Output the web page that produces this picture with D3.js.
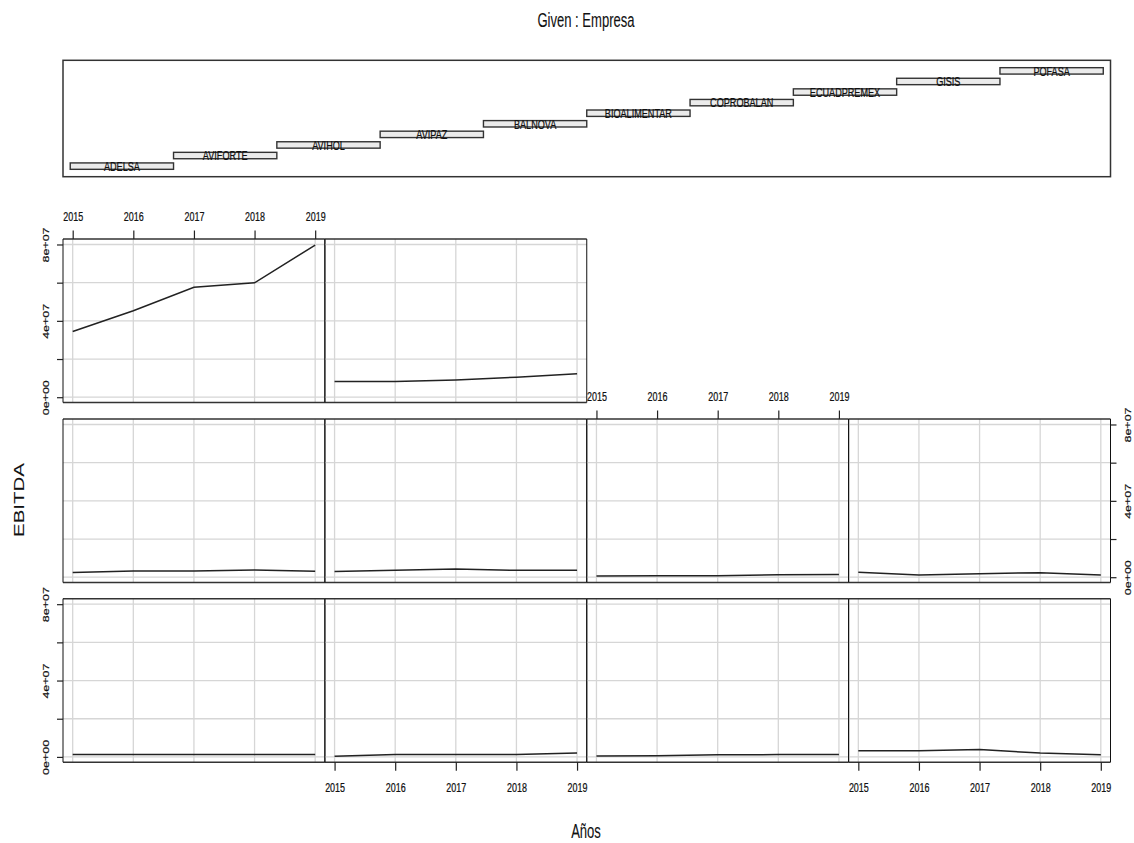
<!DOCTYPE html>
<html>
<head>
<meta charset="utf-8">
<script src="https://cdn.jsdelivr.net/npm/d3@7"></script>
<style>
body { margin: 0; background: #fff; }
text { font-family: 'Liberation Sans', Arial, sans-serif; fill: #111; stroke: #111; stroke-width: 0.25px; }
</style>
</head>
<body>
<div id="chart"></div>
<script>
const years = [2015, 2016, 2017, 2018, 2019];
const empresas = ['ADELSA', 'AVIFORTE', 'AVIHOL', 'AVIPAZ', 'BALNOVA',
    'BIOALIMENTAR', 'COPROBALAN', 'ECUADPREMEX', 'GISIS', 'POFASA'];

// EBITDA per company
const adelsa = [1.2e6, 1.2e6, 1.25e6, 1.2e6, 1.2e6];
const aviforte = [4e5, 1.2e6, 1.2e6, 1.3e6, 2.0e6];
const avihol = [5e5, 6e5, 1.1e6, 1.2e6, 1.2e6];
const avipaz = [3.2e6, 3.2e6, 3.9e6, 2.0e6, 1.1e6];
const balnova = [2.5e6, 3.2e6, 3.2e6, 3.8e6, 3.1e6];
const bioalimentar = [3.0e6, 3.6e6, 4.3e6, 3.6e6, 3.6e6];
const coprobalan = [6e5, 7e5, 8e5, 1.3e6, 1.4e6];
const ecuadpremex = [2.6e6, 1.2e6, 1.8e6, 2.4e6, 1.2e6];
const gisis = [3.44e7, 4.53e7, 5.76e7, 5.99e7, 7.97e7];
const pofasa = [8.2e6, 8.2e6, 9.0e6, 1.05e7, 1.23e7];

const series = [adelsa, aviforte, avihol, avipaz, balnova,
    bioalimentar, coprobalan, ecuadpremex, gisis, pofasa];

const yTicks = [0, 2e7, 4e7, 6e7, 8e7];
const yLabelled = [0, 4e7, 8e7];

function draw() {
    const dimensions = {
        width: 1134,
        height: 843,
        left: 63,
        right: 1110.5,
        cols: 4,
        rowTops: [239, 419, 598.7],  // screen rows, top to bottom
        rowHeight: 163.5,
        squeeze: 0.7                 // the reference is horizontally compressed
    }
    dimensions.colWidth = (dimensions.right - dimensions.left) / dimensions.cols;
    const s = dimensions.squeeze;

    const sci = v => {
        if (v === 0) return '0e+00';
        const e = Math.floor(Math.log10(v));
        return `${Math.round(v / 10 ** e)}e+${String(e).padStart(2, '0')}`;
    }

    const svg = d3.select('#chart')
        .append('svg')
        .attr('width', dimensions.width)
        .attr('height', dimensions.height)
        .style('background', '#fff')

    // Given panel
    const given = { top: 60.3, bottom: 176.7 };
    const gx = d3.scaleLinear().domain([0.43, empresas.length + 0.57]).range([dimensions.left, dimensions.right]);
    const gy = d3.scaleLinear().domain([0, empresas.length + 1]).range([given.bottom, given.top]);

    svg.append('rect')
        .attr('x', dimensions.left).attr('y', given.top)
        .attr('width', dimensions.right - dimensions.left)
        .attr('height', given.bottom - given.top)
        .attr('fill', 'none').attr('stroke', '#333').attr('stroke-width', 1.5)

    const bars = svg.append('g').selectAll('g')
        .data(empresas)
        .join('g')

    bars.append('rect')
        .attr('x', (d, i) => gx(i + 0.5))
        .attr('y', (d, i) => gy(i + 1) - 3.2)
        .attr('width', (d, i) => gx(i + 1.5) - gx(i + 0.5))
        .attr('height', 6.4)
        .attr('fill', '#ebebeb')
        .attr('stroke', '#333')
        .attr('stroke-width', 1.4)

    bars.append('text')
        .attr('transform', (d, i) => `translate(${gx(i + 1)},${gy(i + 1) + 4.8}) scale(${s},1)`)
        .attr('text-anchor', 'middle')
        .style('font-size', '13px')
        .text(d => d)

    // Scales shared by every panel
    const all = series.flat();
    const ext = (d3.max(all) - d3.min(all)) * 0.04;
    const xScale = d3.scaleLinear()
        .domain([years[0] - 0.16, years[years.length - 1] + 0.16])
        .range([0, dimensions.colWidth])
    const yScale = d3.scaleLinear()
        .domain([d3.min(all) - ext, d3.max(all) + ext])
        .range([dimensions.rowHeight, 0])

    const line = d3.line()
        .x((d, i) => xScale(years[i]))
        .y(d => yScale(d))

    const nRows = Math.ceil(series.length / dimensions.cols);

    series.forEach((values, i) => {
        const col = i % dimensions.cols;
        const rowFromBottom = Math.floor(i / dimensions.cols);
        const row = nRows - 1 - rowFromBottom;
        const container = svg.append('g')
            .attr('transform', `translate(${dimensions.left + col * dimensions.colWidth}, ${dimensions.rowTops[row]})`)

        container.append('g').selectAll('line')
            .data(years)
            .join('line')
            .attr('x1', d => xScale(d)).attr('x2', d => xScale(d))
            .attr('y1', 0).attr('y2', dimensions.rowHeight)
            .attr('stroke', '#d6d6d6').attr('stroke-width', 1.3)

        container.append('g').selectAll('line')
            .data(yTicks)
            .join('line')
            .attr('x1', 0).attr('x2', dimensions.colWidth)
            .attr('y1', d => yScale(d)).attr('y2', d => yScale(d))
            .attr('stroke', '#d6d6d6').attr('stroke-width', 1.3)

        container.append('path')
            .datum(values)
            .attr('d', line)
            .attr('fill', 'none')
            .attr('stroke', '#222')
            .attr('stroke-width', 1.5)

        // horizontal edges heavier than the vertical panel dividers
        container.append('g').selectAll('line')
            .data([0, dimensions.rowHeight])
            .join('line')
            .attr('x1', 0).attr('x2', dimensions.colWidth)
            .attr('y1', d => d).attr('y2', d => d)
            .attr('stroke', '#333').attr('stroke-width', 1.6)

        container.append('g').selectAll('line')
            .data([0, dimensions.colWidth])
            .join('line')
            .attr('x1', d => d).attr('x2', d => d)
            .attr('y1', 0).attr('y2', dimensions.rowHeight)
            .attr('stroke', '#111').attr('stroke-width', 1)

        // x axes alternate: odd columns on top of their highest panel, even ones at the bottom
        const topmostInCol = d3.max(d3.range(col, series.length, dimensions.cols));
        if (col % 2 === 0 && i === topmostInCol) {
            const g = container.append('g')
                .call(d3.axisTop(xScale).tickValues(years).tickFormat(d3.format('d')).tickSize(8.5).tickPadding(9.8))
            g.select('.domain').remove();
            g.selectAll('line').attr('stroke', '#222').attr('stroke-width', 1.2);
            g.selectAll('text').attr('transform', `scale(${s},1)`).style('font-size', '12.8px').attr('fill', '#111');
        }
        if (col % 2 === 1 && rowFromBottom === 0) {
            const g = container.append('g')
                .attr('transform', `translate(0, ${dimensions.rowHeight})`)
                .call(d3.axisBottom(xScale).tickValues(years).tickFormat(d3.format('d')).tickSize(8.5).tickPadding(12.4))
            g.select('.domain').remove();
            g.selectAll('line').attr('stroke', '#222').attr('stroke-width', 1.2);
            g.selectAll('text').attr('transform', `scale(${s},1)`).style('font-size', '12.8px').attr('fill', '#111');
        }

        // y axes alternate: left on even rows (from bottom), right on odd rows
        const yFormat = d => yLabelled.includes(d) ? sci(d) : '';
        if (rowFromBottom % 2 === 0 && col === 0) {
            const g = container.append('g')
                .call(d3.axisLeft(yScale).tickValues(yTicks).tickFormat(yFormat).tickSize(6))
            g.select('.domain').remove();
            g.selectAll('line').attr('stroke', '#222').attr('stroke-width', 1.2);
            g.selectAll('text')
                .attr('transform', `scale(${s},1) rotate(-90)`)
                .attr('x', 0).attr('y', -13.8 / s).attr('dy', 0)
                .attr('text-anchor', 'middle')
                .style('font-size', '12.5px').attr('fill', '#111');
        }
        const lastInRow = Math.min(series.length - 1, rowFromBottom * dimensions.cols + dimensions.cols - 1);
        if (rowFromBottom % 2 === 1 && i === lastInRow) {
            const g = container.append('g')
                .attr('transform', `translate(${dimensions.colWidth}, 0)`)
                .call(d3.axisRight(yScale).tickValues(yTicks).tickFormat(yFormat).tickSize(6))
            g.select('.domain').remove();
            g.selectAll('line').attr('stroke', '#222').attr('stroke-width', 1.2);
            g.selectAll('text')
                .attr('transform', `scale(${s},1) rotate(-90)`)
                .attr('x', 0).attr('y', 21 / s).attr('dy', 0)
                .attr('text-anchor', 'middle')
                .style('font-size', '12.5px').attr('fill', '#111');
        }
    })

    // Titles
    svg.append('text')
        .attr('transform', `translate(586, 26.5) scale(0.67,1)`)
        .attr('text-anchor', 'middle')
        .style('font-size', '19.5px')
        .style('stroke-width', '0.1px')
        .text('Given : Empresa')

    svg.append('text')
        .attr('transform', `translate(586, 838) scale(0.67,1)`)
        .attr('text-anchor', 'middle')
        .style('font-size', '19.5px')
        .style('stroke-width', '0.1px')
        .text('Años')

    svg.append('text')
        .attr('transform', `translate(24, 500) scale(${s},1) rotate(-90)`)
        .attr('text-anchor', 'middle')
        .style('font-size', '20.5px')
        .style('stroke-width', '0.1px')
        .text('EBITDA')
}

draw()
</script>
</body>
</html>
